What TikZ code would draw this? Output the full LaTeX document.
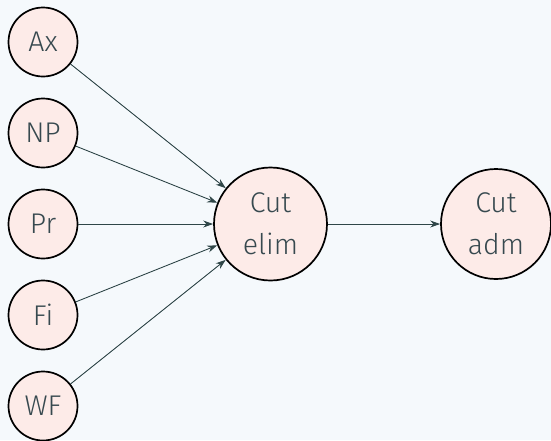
\documentclass[tikz,border=0pt]{standalone}
\usepackage{fontspec}
\setmainfont{Fira Sans}[UprightFont=* Light]
\usetikzlibrary{arrows.meta}
\definecolor{bgc}{HTML}{F5F9FC}
\definecolor{fillc}{HTML}{FDEBE8}
\definecolor{txtc}{HTML}{37494F}
\definecolor{linec}{HTML}{2F4648}
\tikzset{
  circ/.style={circle, draw=black, line width=1.7pt, fill=fillc, text=txtc, inner sep=0pt, align=center, font=\fontsize{28.5}{42}\selectfont},
  small/.style={circ, minimum size=69pt},
  conn/.style={draw=linec, line width=0.9pt, -{Stealth[length=10pt,width=7pt]}}
}
\begin{document}
\begin{tikzpicture}[x=1pt,y=-1pt]
\fill[bgc] (0,0) rectangle (551,440);
\useasboundingbox (0,0) rectangle (551,440);
\node[small] (ax) at (43,42) {Ax};
\node[small] (np) at (43,133) {NP};
\node[small] (pr) at (43,224) {Pr};
\node[small] (fi) at (43,315) {Fi};
\node[small] (wf) at (43,406) {WF};
\node[circ, minimum size=113pt] (ce) at (270.5,224) {Cut\\elim};
\node[circ, minimum size=110pt] (ca) at (496,224) {Cut\\adm};
\foreach \n in {ax,np,pr,fi,wf} \draw[conn] (\n) -- (ce);
\draw[conn] (ce) -- (ca);
\end{tikzpicture}
\end{document}
